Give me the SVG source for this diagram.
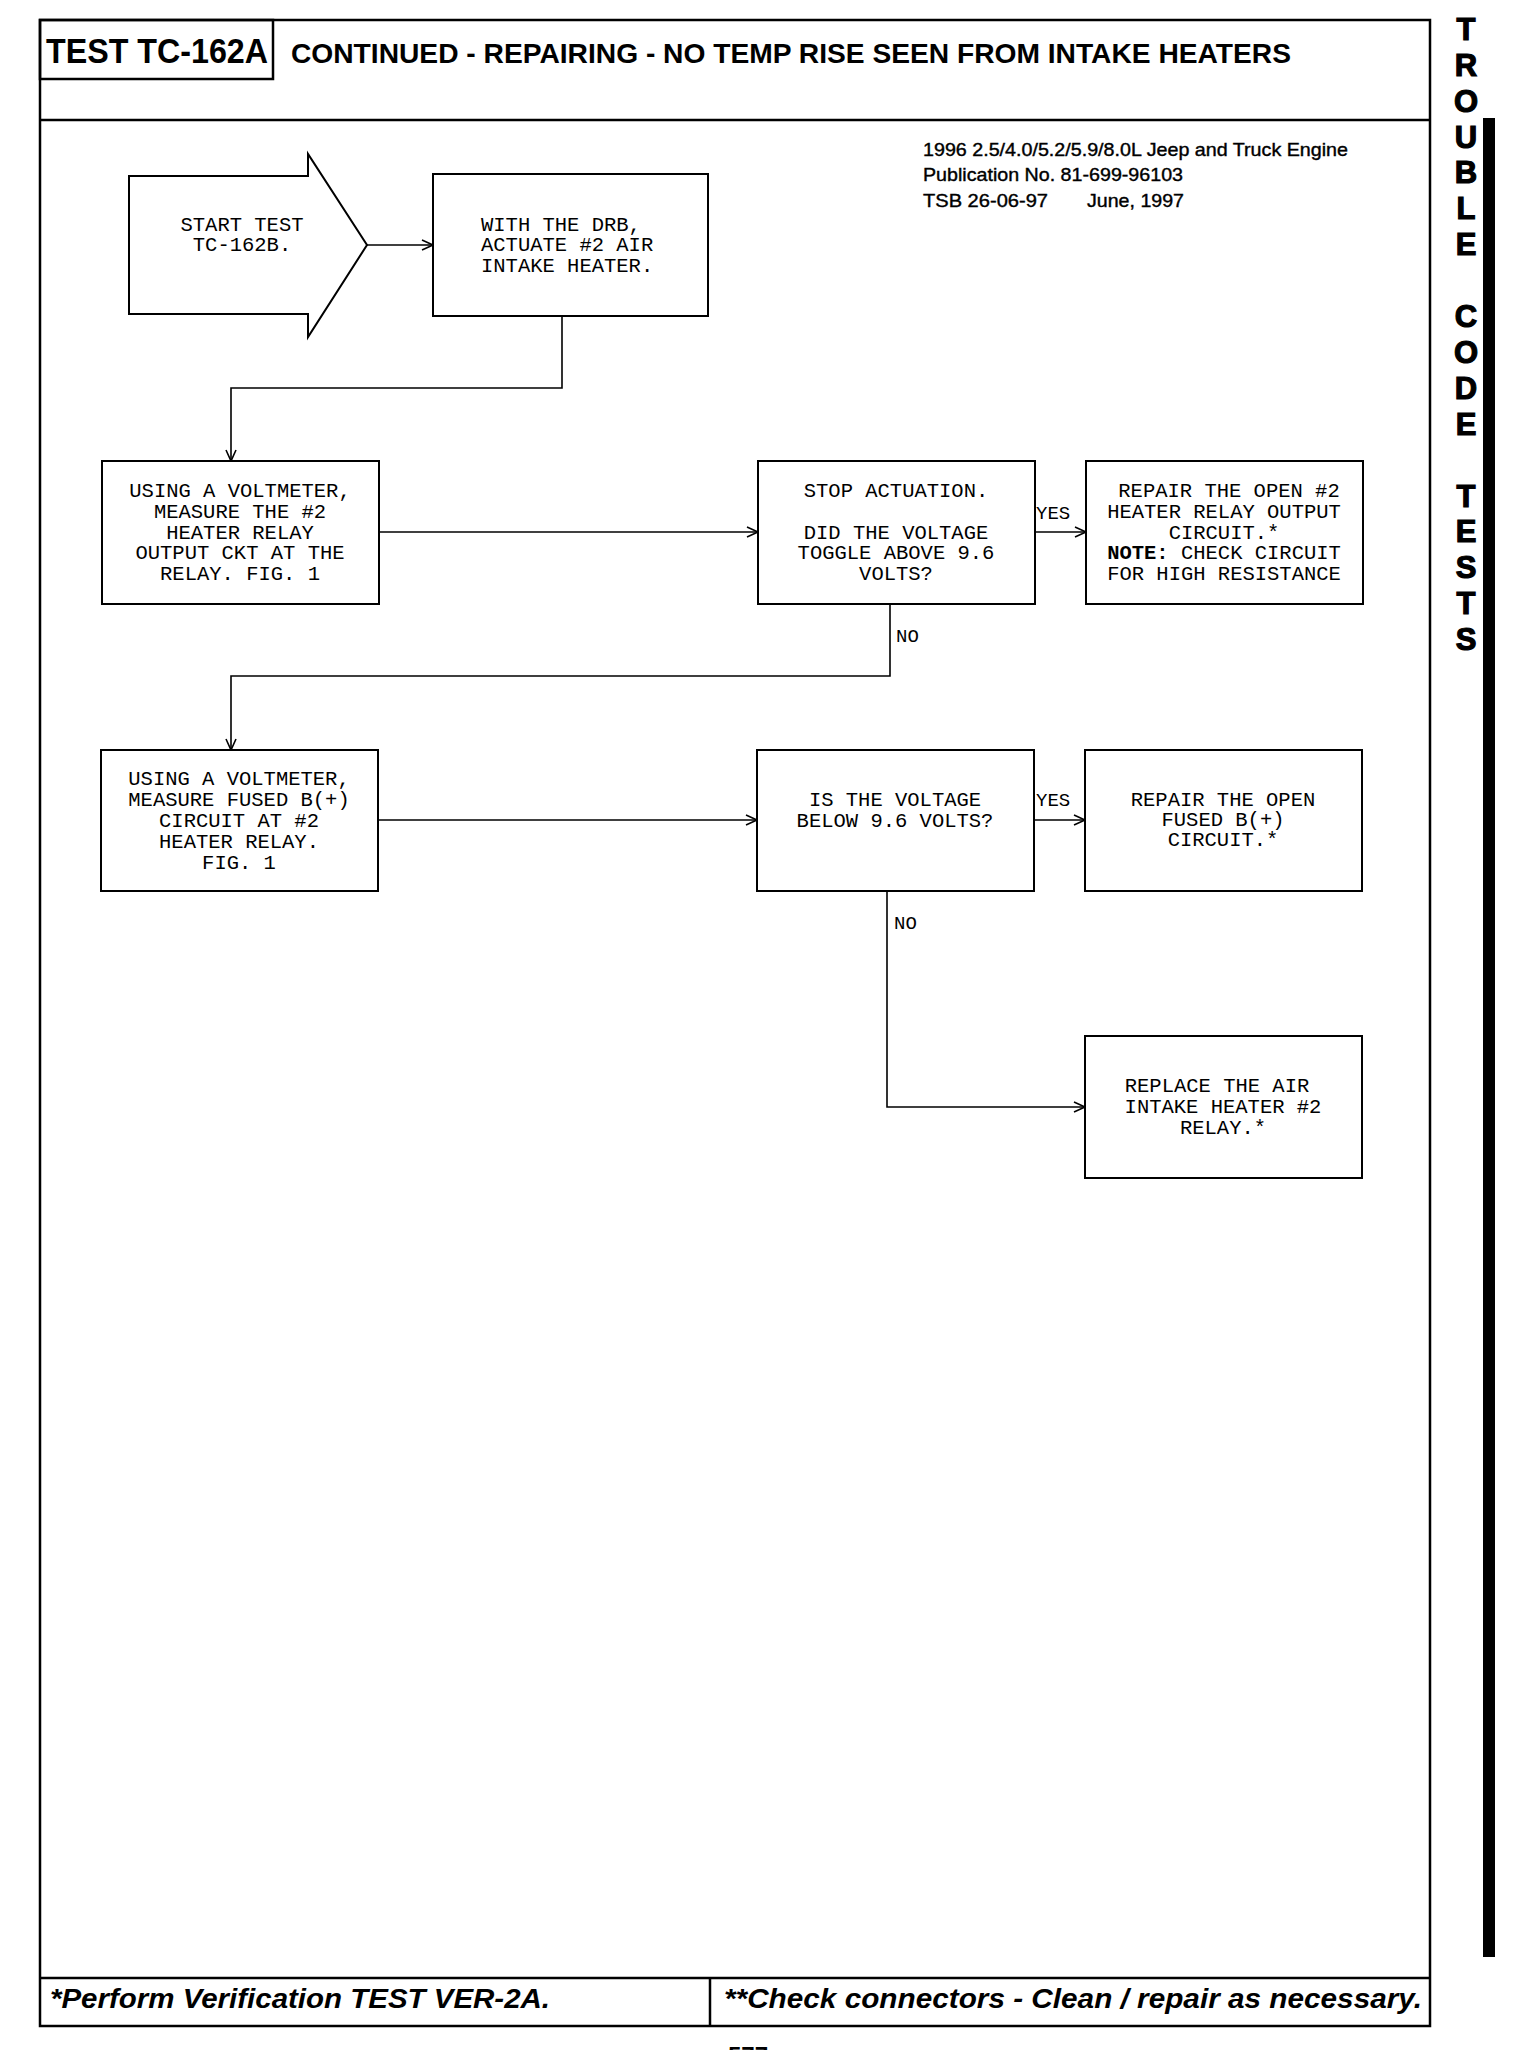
<svg xmlns="http://www.w3.org/2000/svg" width="1520" height="2050" viewBox="0 0 1520 2050">
<style>
.frame{fill:none;stroke:#000;stroke-width:2.5}
.box{fill:#fff;stroke:#000;stroke-width:2}
.conn{fill:none;stroke:#000;stroke-width:1.6}
.mono{font-family:"Liberation Mono","Courier New",monospace;font-size:20.5px;fill:#000;text-anchor:middle}
.lbl{font-family:"Liberation Mono","Courier New",monospace;font-size:19px;fill:#000}
.hd{font-family:"Liberation Sans",Arial,sans-serif;font-weight:bold;fill:#000}
.pub{font-family:"Liberation Sans",Arial,sans-serif;font-size:19px;fill:#000;stroke:#000;stroke-width:0.4}
.side{font-family:"Liberation Sans",Arial,sans-serif;font-weight:900;font-size:31px;fill:#000;text-anchor:middle;stroke:#000;stroke-width:1.2}
.foot{font-family:"Liberation Sans",Arial,sans-serif;font-weight:bold;font-style:italic;font-size:27px;fill:#000}
</style>
<defs>
<marker id="arr" markerUnits="userSpaceOnUse" markerWidth="14" markerHeight="14" refX="12" refY="6" orient="auto">
<path d="M1,1 L12,6 L1,11" fill="none" stroke="#000" stroke-width="1.6"/>
</marker>
</defs>
<rect width="1520" height="2050" fill="#fff"/>
<g id="frame">
<rect class="frame" x="40" y="20" width="1390" height="2006"/>
<line class="frame" x1="40" y1="120" x2="1430" y2="120"/>
<rect class="frame" x="40" y="20" width="233" height="59"/>
<line class="frame" x1="40" y1="1978" x2="1430" y2="1978"/>
<line class="frame" x1="710" y1="1978" x2="710" y2="2026"/>
<rect x="1483" y="118" width="12" height="1839" fill="#000"/>
</g>
<g id="header">
<text class="hd" x="46" y="63" font-size="35" textLength="222" lengthAdjust="spacingAndGlyphs">TEST TC-162A</text>
<text class="hd" x="291" y="63" font-size="28" textLength="1000" lengthAdjust="spacingAndGlyphs">CONTINUED - REPAIRING - NO TEMP RISE SEEN FROM INTAKE HEATERS</text>
<text class="pub" x="923" y="156" textLength="425" lengthAdjust="spacingAndGlyphs">1996 2.5/4.0/5.2/5.9/8.0L Jeep and Truck Engine</text>
<text class="pub" x="923" y="181" textLength="260" lengthAdjust="spacingAndGlyphs">Publication No. 81-699-96103</text>
<text class="pub" x="923" y="207" textLength="125" lengthAdjust="spacingAndGlyphs">TSB 26-06-97</text>
<text class="pub" x="1087" y="207" textLength="97" lengthAdjust="spacingAndGlyphs">June, 1997</text>
</g>
<g id="sidebar">
<text class="side" x="1466" y="40">T</text>
<text class="side" x="1466" y="76">R</text>
<text class="side" x="1466" y="112">O</text>
<text class="side" x="1466" y="148">U</text>
<text class="side" x="1466" y="183">B</text>
<text class="side" x="1466" y="219">L</text>
<text class="side" x="1466" y="255">E</text>
<text class="side" x="1466" y="327">C</text>
<text class="side" x="1466" y="363">O</text>
<text class="side" x="1466" y="399">D</text>
<text class="side" x="1466" y="435">E</text>
<text class="side" x="1466" y="507">T</text>
<text class="side" x="1466" y="542">E</text>
<text class="side" x="1466" y="578">S</text>
<text class="side" x="1466" y="614">T</text>
<text class="side" x="1466" y="650">S</text>
</g>
<g id="connectors">
<line class="conn" x1="367" y1="245" x2="433" y2="245" marker-end="url(#arr)"/>
<polyline class="conn" points="562,316 562,388 231,388 231,461" marker-end="url(#arr)"/>
<line class="conn" x1="379" y1="532" x2="758" y2="532" marker-end="url(#arr)"/>
<line class="conn" x1="1035" y1="532" x2="1086" y2="532" marker-end="url(#arr)"/>
<polyline class="conn" points="890,604 890,676 231,676 231,750" marker-end="url(#arr)"/>
<line class="conn" x1="378" y1="820" x2="757" y2="820" marker-end="url(#arr)"/>
<line class="conn" x1="1034" y1="820" x2="1085" y2="820" marker-end="url(#arr)"/>
<polyline class="conn" points="887,891 887,1107 1085,1107" marker-end="url(#arr)"/>
<text class="lbl" x="1036" y="519">YES</text>
<text class="lbl" x="896" y="642">NO</text>
<text class="lbl" x="1036" y="806">YES</text>
<text class="lbl" x="894" y="929">NO</text>
</g>
<g id="start">
<polygon class="box" points="129,176 308,176 308,154 367,245 308,337 308,314 129,314"/>
<text class="mono" x="242" y="231">START TEST</text>
<text class="mono" x="242" y="251">TC-162B.</text>
</g>
<g id="actuate">
<rect class="box" x="433" y="174" width="275" height="142"/>
<text class="mono" x="481" y="231" style="text-anchor:start">WITH THE DRB,</text>
<text class="mono" x="481" y="251" style="text-anchor:start">ACTUATE #2 AIR</text>
<text class="mono" x="481" y="272" style="text-anchor:start">INTAKE HEATER.</text>
</g>
<g id="measure-output">
<rect class="box" x="102" y="461" width="277" height="143"/>
<text class="mono" x="240" y="497">USING A VOLTMETER,</text>
<text class="mono" x="240" y="518">MEASURE THE #2</text>
<text class="mono" x="240" y="539">HEATER RELAY</text>
<text class="mono" x="240" y="559">OUTPUT CKT AT THE</text>
<text class="mono" x="240" y="580">RELAY. FIG. 1</text>
</g>
<g id="stop-actuation">
<rect class="box" x="758" y="461" width="277" height="143"/>
<text class="mono" x="896" y="497">STOP ACTUATION.</text>
<text class="mono" x="896" y="539">DID THE VOLTAGE</text>
<text class="mono" x="896" y="559">TOGGLE ABOVE 9.6</text>
<text class="mono" x="896" y="580">VOLTS?</text>
</g>
<g id="repair-output">
<rect class="box" x="1086" y="461" width="277" height="143"/>
<text class="mono" x="1229" y="497">REPAIR THE OPEN #2</text>
<text class="mono" x="1224" y="518">HEATER RELAY OUTPUT</text>
<text class="mono" x="1224" y="539">CIRCUIT.*</text>
<text class="mono" x="1224" y="559"><tspan font-weight="bold">NOTE:</tspan> CHECK CIRCUIT</text>
<text class="mono" x="1224" y="580">FOR HIGH RESISTANCE</text>
</g>
<g id="measure-fused">
<rect class="box" x="101" y="750" width="277" height="141"/>
<text class="mono" x="239" y="785">USING A VOLTMETER,</text>
<text class="mono" x="239" y="806">MEASURE FUSED B(+)</text>
<text class="mono" x="239" y="827">CIRCUIT AT #2</text>
<text class="mono" x="239" y="848">HEATER RELAY.</text>
<text class="mono" x="239" y="869">FIG. 1</text>
</g>
<g id="below-9-6">
<rect class="box" x="757" y="750" width="277" height="141"/>
<text class="mono" x="895" y="806">IS THE VOLTAGE</text>
<text class="mono" x="895" y="827">BELOW 9.6 VOLTS?</text>
</g>
<g id="repair-fused">
<rect class="box" x="1085" y="750" width="277" height="141"/>
<text class="mono" x="1223" y="806">REPAIR THE OPEN</text>
<text class="mono" x="1223" y="826">FUSED B(+)</text>
<text class="mono" x="1223" y="846">CIRCUIT.*</text>
</g>
<g id="replace-relay">
<rect class="box" x="1085" y="1036" width="277" height="142"/>
<text class="mono" x="1217" y="1092">REPLACE THE AIR</text>
<text class="mono" x="1223" y="1113">INTAKE HEATER #2</text>
<text class="mono" x="1223" y="1134">RELAY.*</text>
</g>
<g id="footer">
<text class="foot" x="50" y="2008" textLength="500" lengthAdjust="spacingAndGlyphs">*Perform Verification TEST VER-2A.</text>
<text class="foot" x="724" y="2008" textLength="698" lengthAdjust="spacingAndGlyphs">**Check connectors - Clean / repair as necessary.</text>
<text class="hd" x="728" y="2064" font-size="24">577</text>
</g>
</svg>
